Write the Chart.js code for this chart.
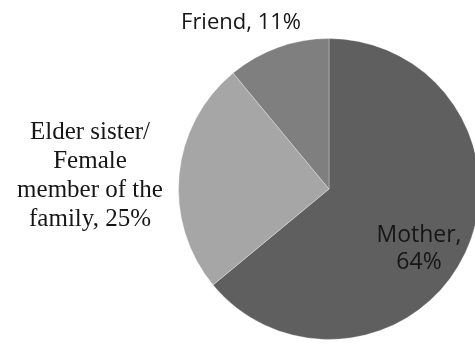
<!DOCTYPE html>
<html>
<head>
<meta charset="utf-8">
<script src="https://cdn.jsdelivr.net/npm/chart.js@4"></script>
<style>
  html, body { margin: 0; padding: 0; background: #fff; overflow: hidden; }
  #wrap { width: 475px; height: 345px; overflow: hidden; }
</style>
</head>
<body>
<div id="wrap"><canvas id="pie" width="490" height="345"></canvas></div>
<script>
const categories = ['Mother', 'Elder sister/ Female member of the family', 'Friend'];
const shares = [64, 25, 11];
const sliceColors = ['#5f5f5f', '#a6a6a6', '#7f7f7f'];

// label lines for each slice, the last line gets ", NN%"
const labelLines = [
  ['Mother,', ''],
  ['Elder sister/', 'Female', 'member of the', 'family'],
  ['Friend']
];

const labelStyle = [
  { font: '23px "Open Sans"', x: 419, y: 242, lh: 27 },
  { font: '25px "Liberation Serif"', x: 90, y: 139, lh: 29 },
  { font: '22px "Open Sans"', x: 241, y: 29, lh: 26 }
];

const pieLabels = {
  id: 'pieLabels',
  afterDraw(chart) {
    const ctx = chart.ctx;
    ctx.save();
    ctx.fillStyle = '#161616';
    ctx.textAlign = 'center';
    ctx.textBaseline = 'alphabetic';
    shares.forEach((v, i) => {
      const st = labelStyle[i];
      const lines = labelLines[i].slice();
      const last = lines.length - 1;
      lines[last] = lines[last] ? lines[last] + ', ' + v + '%' : v + '%';
      ctx.font = st.font;
      lines.forEach((t, k) => ctx.fillText(t, st.x, st.y + k * st.lh));
    });
    ctx.restore();
  }
};

new Chart(document.getElementById('pie'), {
  type: 'pie',
  data: {
    labels: categories,
    datasets: [{
      data: shares,
      backgroundColor: sliceColors,
      borderColor: 'rgba(255,255,255,0.3)',
      borderWidth: 1
    }]
  },
  options: {
    responsive: false,
    devicePixelRatio: 1,
    animation: false,
    layout: { padding: { left: 178, right: 10, top: 38, bottom: 5 } },
    plugins: {
      legend: { display: false },
      tooltip: { enabled: false }
    }
  },
  plugins: [pieLabels]
});
</script>
</body>
</html>
